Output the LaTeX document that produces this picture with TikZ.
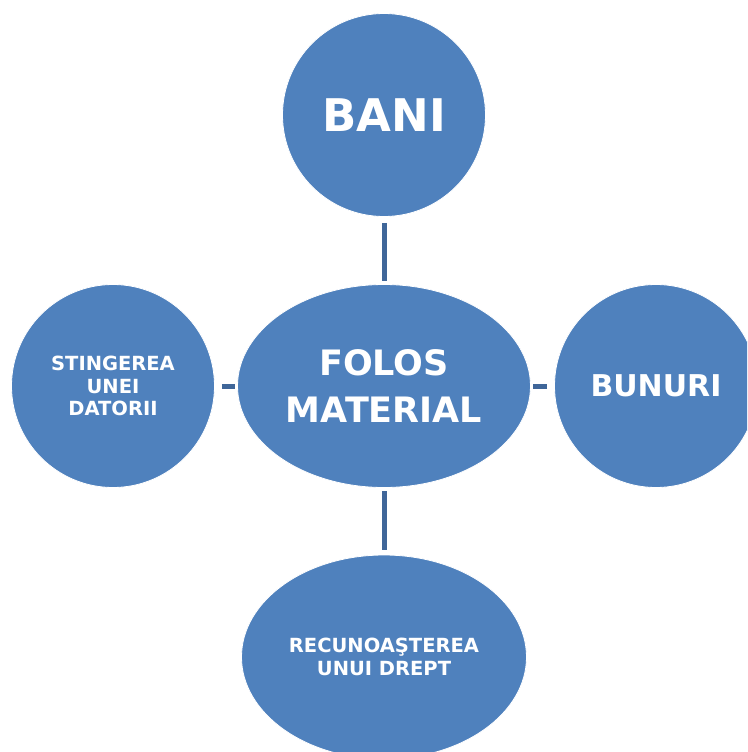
\documentclass[tikz,border=0pt]{standalone}
\usepackage{fontspec}
\setmainfont{DejaVu Sans}
\usetikzlibrary{shapes.geometric}
\definecolor{blobfill}{HTML}{4F81BD}
\definecolor{linkcol}{HTML}{3F6699}
\tikzset{
  blob/.style={fill=blobfill, draw=white, line width=0.8pt, inner sep=0pt, text=white, align=center, font=\bfseries},
  roundblob/.style={blob, circle, minimum size=203pt},
  ovalblob/.style={blob, ellipse},
  link/.style={draw=linkcol, line width=5pt}
}
\begin{document}
\begin{tikzpicture}[x=1pt,y=-1pt]
\useasboundingbox (0,0) rectangle (747,752);
\clip (0,0) rectangle (747,752);
\node[roundblob, font=\bfseries\fontsize{45}{50}\selectfont] (bani) at (384,115) {BANI};
\node[ovalblob, minimum width=293pt, minimum height=203pt, font=\bfseries\fontsize{35}{47}\selectfont] (folos) at (384,386) {FOLOS\\MATERIAL};
\node[roundblob, font=\bfseries\fontsize{19.5}{22.5}\selectfont] (stin) at (113,386) {STINGEREA\\UNEI\\DATORII};
\node[roundblob, font=\bfseries\fontsize{30}{34}\selectfont] (bun) at (656,386) {BUNURI};
\node[ovalblob, minimum width=285pt, minimum height=204pt, font=\bfseries\fontsize{19.5}{23}\selectfont] (rec) at (384,657) {RECUNOAŞTEREA\\UNUI DREPT};
\draw[link, shorten <=6pt, shorten >=3pt] (bani.south) -- (folos.north);
\draw[link, shorten <=7pt, shorten >=2pt] (stin.east) -- (folos.west);
\draw[link, shorten <=7pt, shorten >=2pt] (bun.west) -- (folos.east);
\draw[link, shorten <=5pt, shorten >=3pt] (rec.north) -- (folos.south);
\end{tikzpicture}
\end{document}
